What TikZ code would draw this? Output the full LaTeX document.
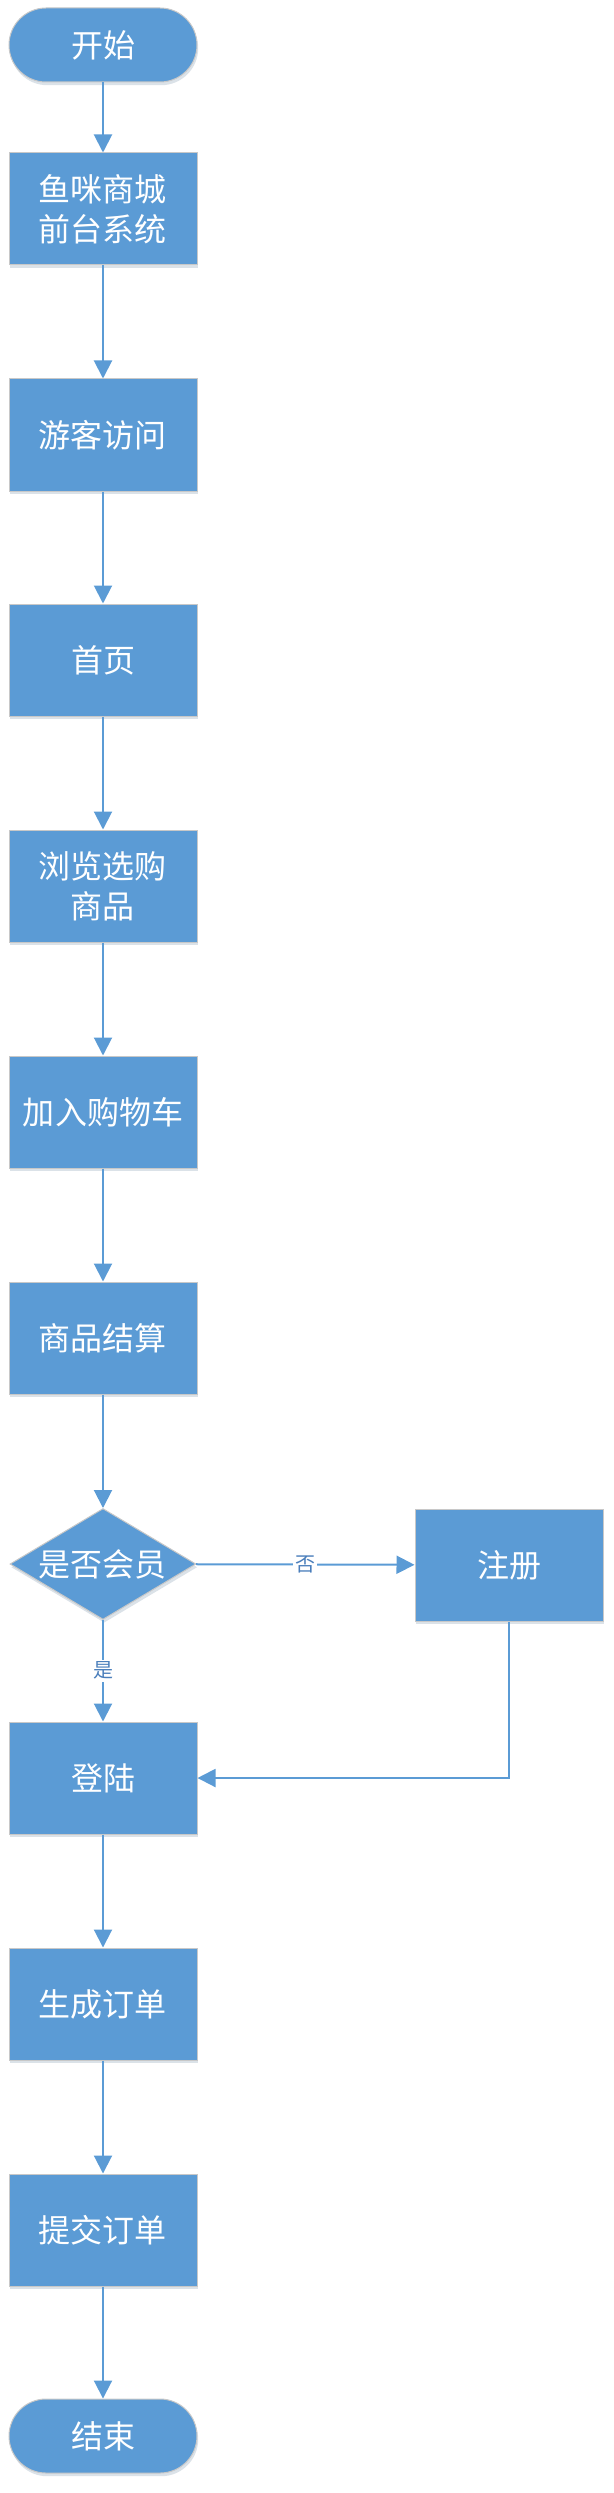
\documentclass[tikz,border=0pt]{standalone}
\usepackage{fontspec}
\newfontfamily\cjk{Noto Sans CJK SC}
\usetikzlibrary{shapes.geometric,arrows.meta,shadows}
\definecolor{flowblue}{HTML}{5B9BD5}
\definecolor{edgegray}{HTML}{C8C8C8}
\definecolor{labelblue}{HTML}{4A7EBB}

\begin{document}
\begin{tikzpicture}[x=0.5pt,y=-0.5pt,
  base/.style={fill=flowblue,draw=edgegray,line width=0.5pt,text=white,
    font=\cjk\fontsize{16pt}{20pt}\selectfont,align=center,inner sep=0pt,
    drop shadow={shadow xshift=0.6pt,shadow yshift=-1.6pt,opacity=0.18,fill=flowblue!60!black}},
  terminal/.style={base,rectangle,rounded corners=18.5pt,minimum width=94pt,minimum height=37pt},
  procbox/.style={base,rectangle,minimum width=94pt,minimum height=56pt},
  decision/.style={base,diamond,aspect=1.68,minimum width=93pt,minimum height=55.5pt},
  flow/.style={draw=flowblue,line width=1pt,-{Triangle[width=9pt,length=9pt]}},
  branch/.style={fill=white,text=labelblue,font=\cjk\fontsize{10pt}{12pt}\selectfont,inner sep=1pt}]
  \useasboundingbox (0,0) rectangle (614,2493);
  % main column
  \node[terminal] (start) at (103,45) {开始};
  \node[procbox] (sys) at (103,209) {鱼咪商城\\前台系统};
  \node[procbox] (guest) at (103,435) {游客访问};
  \node[procbox] (home) at (103,660) {首页};
  \node[procbox] (browse) at (103,886) {浏览选购\\商品};
  \node[procbox] (cart) at (103,1112) {加入购物车};
  \node[procbox] (settle) at (103,1338) {商品结算};
  \node[decision] (member) at (103,1564) {是否会员};
  \node[procbox] (reg) at (509,1565) {注册};
  \node[procbox] (login) at (103,1778) {登陆};
  \node[procbox] (order) at (103,2004) {生成订单};
  \node[procbox] (submit) at (103,2230) {提交订单};
  \node[terminal] (stop) at (103,2436) {结束};
  % connectors
  \draw[flow] (start) -- (sys);
  \draw[flow] (sys) -- (guest);
  \draw[flow] (guest) -- (home);
  \draw[flow] (home) -- (browse);
  \draw[flow] (browse) -- (cart);
  \draw[flow] (cart) -- (settle);
  \draw[flow] (settle) -- (member);
  \draw[flow] (member) -- node[branch] {否} (reg);
  \draw[flow] (member) -- node[branch] {是} (login);
  \draw[flow] (reg) |- (login);
  \draw[flow] (login) -- (order);
  \draw[flow] (order) -- (submit);
  \draw[flow] (submit) -- (stop);
\end{tikzpicture}
\end{document}
